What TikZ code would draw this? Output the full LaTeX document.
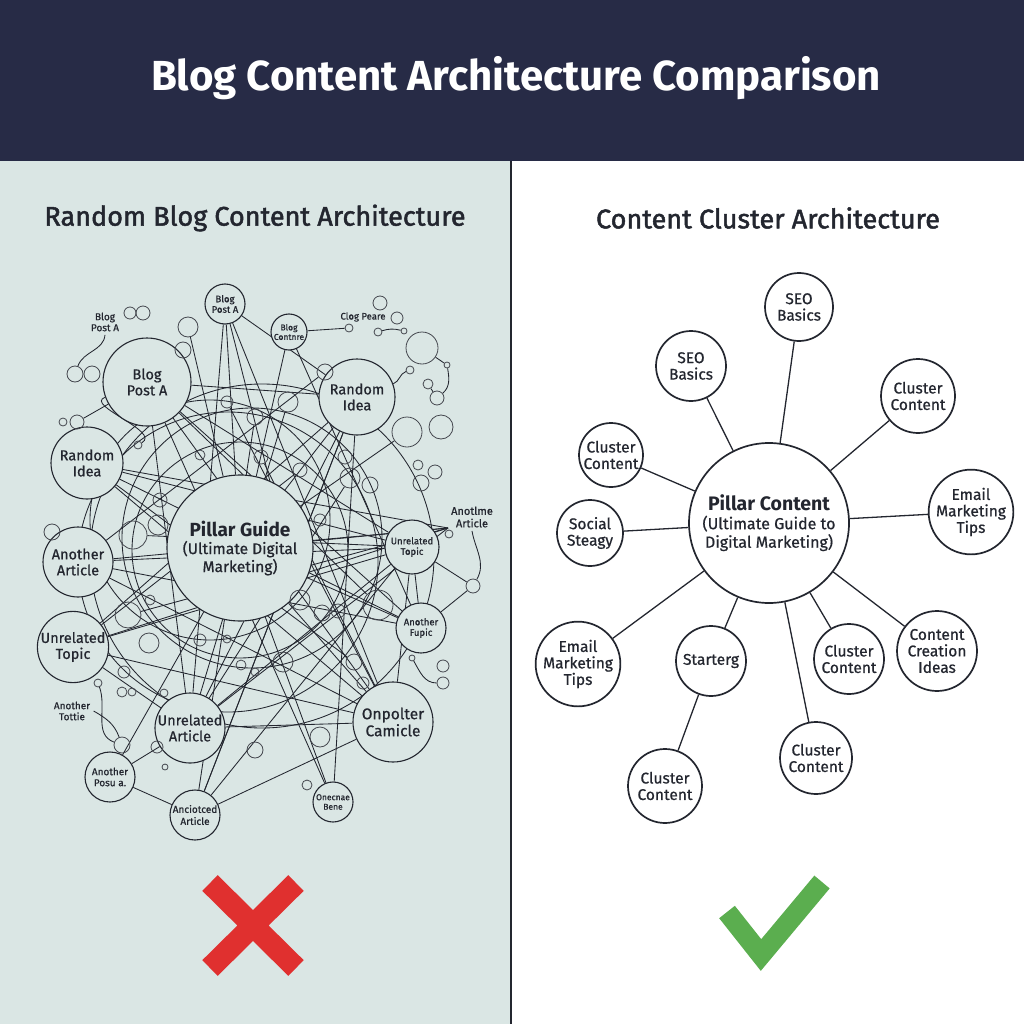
\documentclass[tikz,border=0pt]{standalone}
\usepackage{fontspec}
\setmainfont{Fira Sans}[UprightFeatures={FakeBold=0.7}]
\newfontfamily\headfont{Fira Sans}[FakeBold=1.8]
\usetikzlibrary{positioning}

\definecolor{ink}{HTML}{23262F}
\definecolor{navy}{HTML}{272B46}
\definecolor{panel}{HTML}{DAE6E4}
\definecolor{nored}{HTML}{E0302F}
\definecolor{okgreen}{HTML}{5BAE4F}

\pgfdeclarelayer{bg}
\pgfdeclarelayer{wires}
\pgfsetlayers{bg,wires,main}

\begin{document}
\begin{tikzpicture}[
  x=1pt,y=-1pt,
  bubble/.style={circle,draw=ink,line width=1.7pt,fill=white,minimum size=#1,
    inner sep=0pt,align=center,text=ink,font=\fontsize{15.5}{16.5}\selectfont},
  webnode/.style={circle,draw=ink,line width=1.1pt,fill=panel,minimum size=#1,
    inner sep=0pt,align=center,text=ink,font=\fontsize{14.5}{16}\selectfont},
  smallweb/.style={webnode=#1,font=\fontsize{9.5}{10.5}\selectfont},
  blob/.style={circle,draw=ink!85,line width=0.8pt,minimum size=#1,inner sep=0pt},
  note/.style={text=ink,align=center,font=\fontsize{10}{11}\selectfont},
  spoke/.style={draw=ink,line width=1.3pt},
  wire/.style={draw=ink,line width=0.85pt}
]
  \useasboundingbox (0,0) rectangle (1024,1024);

  % panels and heading
  \begin{pgfonlayer}{bg}
    \fill[navy] (0,0) rectangle (1024,161);
    \fill[panel] (0,161) rectangle (511,1024);
    \draw[ink,line width=2pt] (511,161) -- (511,1024);
  \end{pgfonlayer}
  \node[text=white,font=\fontsize{42}{44}\selectfont\bfseries] (title) at (516,78)
    {Blog Content Architecture Comparison};
  \node[text=ink,font=\headfont\fontsize{27}{29}\selectfont] (lefthead) at (255,218)
    {Random Blog Content Architecture};
  \node[text=ink,font=\headfont\fontsize{27}{29}\selectfont] (righthead) at (768,218)
    {Content Cluster Architecture};

  % ---- left: tangled web ----
  \node[webnode=146,font=\fontsize{15.5}{18}\selectfont] (pg) at (240,548)
    {{\fontsize{19}{21}\selectfont\bfseries Pillar Guide}\\(Ultimate Digital\\Marketing)};
  \node[webnode=88] (bpa) at (147,382) {Blog\\Post A};
  \node[smallweb=40] (bpb) at (225,304) {Blog\\Post A};
  \node[webnode=72] (ril) at (87,463) {Random\\Idea};
  \node[smallweb=36,font=\fontsize{8.5}{9.5}\selectfont] (bct) at (289,332) {Blog\\Contnre};
  \node[webnode=76] (rir) at (357,397) {Random\\Idea};
  \node[smallweb=54] (utr) at (412,547) {Unrelated\\Topic};
  \node[smallweb=50] (afp) at (421,628) {Another\\Fupic};
  \node[webnode=80,font=\fontsize{15.5}{17}\selectfont] (opc) at (393,722) {Onpolter\\Camicle};
  \node[smallweb=40,font=\fontsize{8.5}{9.5}\selectfont] (obe) at (333,802) {Onecnae\\Bene};
  \node[webnode=70] (aal) at (78,562) {Another\\Article};
  \node[webnode=70] (utl) at (73,647) {Unrelated\\Topic};
  \node[webnode=70] (ua) at (190,728) {Unrelated\\Article};
  \node[smallweb=50,font=\fontsize{10}{11}\selectfont] (apo) at (110,777) {Another\\Posu a.};
  \node[smallweb=50,font=\fontsize{10}{12}\selectfont] (aar) at (195,815) {Anciotced\\Article};
  \node[note] (bpt) at (105,322) {Blog\\Post A};
  \node[note,font=\fontsize{9.5}{10}\selectfont] (clp) at (363,317) {Clog Peare};
  \node[note,font=\fontsize{11}{12.5}\selectfont] (aat) at (472,517) {Anotlme\\Article};
  \node[note] (att) at (72,711) {Another\\Tottie};
  \coordinate (hubr) at (448,528);

  \foreach \x/\y/\d [count=\i] in {130/313/12,143/313/14,188/327/20,75/374/16,
      92/374/16,63/422/8,77/422/14,138/445/8,227/402/12,255/417/16,183/350/16,
      380/303/14,397/318/12,349/328/8,378/332/8,404/331/6,422/348/32,447/365/6,
      410/370/8,428/384/10,437/398/14,407/432/30,441/427/24,418/465/10,
      435/472/14,421/483/16,350/478/20,370/485/16,288/402/20,200/455/10,
      325/372/16,345/457/14,261/457/14,52/532/16,133/535/28,158/525/20,
      128/615/26,149/643/20,124/672/12,122/692/10,132/692/8,98/683/8,
      164/693/8,122/745/16,157/747/12,165/767/6,227/639/8,241/665/10,
      255/672/8,255/750/16,449/534/8,473/586/14,378/605/30,338/611/14,
      322/613/16,354/662/16,363/683/12,320/737/20,307/785/10,412/658/6,
      443/666/12,443/683/12,283/662/20,160/500/14,300/470/14,320/520/12,
      150/600/10,300/600/20,200/640/12}
    \node[blob=\d] (s\i) at (\x,\y) {};

  \begin{pgfonlayer}{wires}
    % big loops round the pillar
    \draw[wire] (240,550) circle (108);
    \draw[wire] (252,538) circle (130);
    \draw[wire] (228,562) circle (150);
    \draw[wire] (262,556) circle (172);
    \draw[wire] (210,520) circle (120);
    % criss-cross links
    \foreach \a/\b in {bpa/rir,bpa/utr,bpa/opc,bpa/ua,bpa/afp,bpb/pg,bpb/opc,
        bpb/ua,bpb/rir,ril/utr,ril/opc,ril/hubr,ril/afp,rir/ua,rir/aar,rir/utl,
        rir/pg,bct/pg,bct/afp,aal/utr,aal/hubr,aal/opc,aal/afp,utl/opc,utl/ua,
        utl/hubr,utl/utr,ua/opc,ua/hubr,ua/utr,apo/ua,apo/pg,aar/opc,aar/utr,
        aar/rir,obe/pg,obe/bpa,obe/rir,pg/afp,pg/hubr,pg/opc,utr/afp,utr/opc,
        s22/pg,s27/ua,s29/ua,s31/aal,s33/opc,s35/utr,s37/hubr,s53/bpa,s56/ril,
        s65/utl,s68/bpb,s10/aar,s9/opc,s3/pg,s52/utr,s52/afp,bct/s14,apo/aar,
        s44/apo,s18/s17,s20/s21}
      \draw[wire] (\a) -- (\b);
    % loose hairlines
    \draw[wire] (bpt.south) to[out=-95,in=70] (s4);
    \draw[wire] (s15) to[bend left=15] (s16);
    \draw[wire] (s18) to[out=-80,in=40] (s21);
    \draw[wire] (s19) to[out=200,in=20] (rir);
    \draw[wire] (att.east) to[out=-30,in=110] (s44);
    \draw[wire] (s42) to[out=-70,in=160] (s44);
    \draw[wire] (s60) to[out=-60,in=180] (s62);
    \draw[wire] (aat.south) to[out=-80,in=60] (s52);
    \draw[wire] (s8) to[out=30,in=200] (bpa);
    \draw[wire] (s7) to (bpa);
  \end{pgfonlayer}

  % ---- right: hub and spokes ----
  \node[bubble=160,font=\fontsize{16}{18.5}\selectfont] (pillar) at (769,523)
    {{\fontsize{19.5}{22}\selectfont\bfseries Pillar Content}\\(Ultimate Guide to\\Digital Marketing)};
  \node[bubble=68] (seoa) at (799,307) {SEO\\Basics};
  \node[bubble=70] (seob) at (691,366) {SEO\\Basics};
  \node[bubble=74] (cca) at (918,396) {Cluster\\Content};
  \node[bubble=64] (ccb) at (611,455) {Cluster\\Content};
  \node[bubble=66] (soc) at (590,533) {Social\\Steagy};
  \node[bubble=72] (ema) at (971,512) {Email\\Marketing\\Tips};
  \node[bubble=80] (emb) at (578,664) {Email\\Marketing\\Tips};
  \node[bubble=70] (sta) at (711,661) {Starterg};
  \node[bubble=74] (ccc) at (665,786) {Cluster\\Content};
  \node[bubble=72] (ccd) at (816,758) {Cluster\\Content};
  \node[bubble=70] (cce) at (849,659) {Cluster\\Content};
  \node[bubble=80] (cci) at (937,651) {Content\\Creation\\Ideas};

  \foreach \n in {seoa,seob,cca,ccb,soc,ema,emb,sta,ccd,cce,cci}
    \draw[spoke] (pillar) -- (\n);
  \draw[spoke] (sta) -- (ccc);

  % verdict marks
  \draw[nored,line width=22pt] (210,883) -- (296,968) (296,883) -- (210,968);
  \draw[okgreen,line width=20pt] (727,912) -- (761,955) -- (822,882);
\end{tikzpicture}
\end{document}
